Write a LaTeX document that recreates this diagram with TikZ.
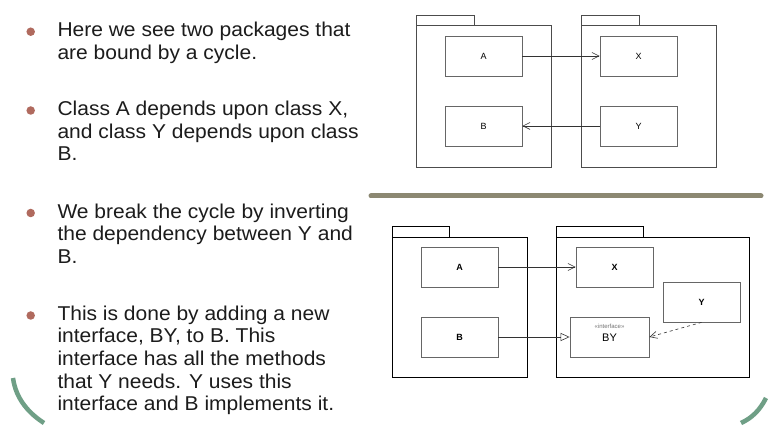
\documentclass[tikz,border=0pt]{standalone}
\usepackage{fontspec}
\setmainfont{Liberation Sans}
\usetikzlibrary{arrows.meta}
\definecolor{bulc}{HTML}{B06A5E}
\definecolor{sepc}{HTML}{8C8872}
\definecolor{arcc}{HTML}{6F9F86}
\definecolor{txtc}{HTML}{1C1C1C}
\tikzset{
  line/.style={anchor=base west, inner sep=0pt, transform shape, font=\fontsize{20}{22}\selectfont, text=txtc},
  bul/.style={circle, fill=bulc, inner sep=0pt, minimum size=8.5pt},
  pkgbody/.style={draw=black!70, line width=0.8pt, inner sep=0pt},
  cls/.style={draw=black!60, line width=0.8pt, inner sep=0pt, minimum width=77pt, minimum height=40pt, font=\fontsize{9}{10}\selectfont},
  clsb/.style={cls, font=\fontsize{9}{10}\selectfont\bfseries},
  dep/.style={draw=black!80, line width=0.6pt, -{Straight Barb[length=7pt,width=7pt]}},
  real/.style={draw=black!80, line width=0.6pt, -{Triangle[open,length=9pt,width=8pt]}},
}
\begin{document}
\begin{tikzpicture}[x=1pt,y=-1pt]
\useasboundingbox[fill=white] (0,0) rectangle (782,438);
% bullets and text
\node[bul] (b1) at (30.7,31.7) {};
\node[bul] (b2) at (30.7,110.5) {};
\node[bul] (b3) at (30.7,213) {};
\node[bul] (b4) at (30.7,315.5) {};
\begin{scope}[xscale=1.05]
\node[line] (t1) at (57.3/1.05,36.7) {Here we see two packages that};
\node[line] (t2) at (57.3/1.05,59.3) {are bound by a cycle.};
\node[line] (t3) at (57.3/1.05,115.7) {Class A depends upon class X,};
\node[line] (t4) at (57.3/1.05,138.3) {and class Y depends upon class};
\node[line] (t5) at (57.3/1.05,161) {B.};
\node[line] (t6) at (57.3/1.05,218.3) {We break the cycle by inverting};
\node[line] (t7) at (57.3/1.05,240.7) {the dependency between Y and};
\node[line] (t8) at (57.3/1.05,263.3) {B.};
\node[line] (t9) at (57.3/1.05,320.7) {This is done by adding a new};
\node[line] (t10) at (57.3/1.05,342.7) {interface, BY, to B. This};
\node[line] (t11) at (57.3/1.05,365.5) {interface has all the methods};
\node[line] (t12) at (57.3/1.05,388.3) {that Y needs. Y uses this};
\node[line] (t13) at (57.3/1.05,410.7) {interface and B implements it.};
\end{scope}
% frame arcs
\draw[arcc, line width=4.5pt] (13,378) .. controls (16,400) and (30,414) .. (44,423);
\draw[arcc, line width=4.5pt] (766,398) .. controls (760,410) and (752,418) .. (741,423);
% separator
\coordinate (s1) at (371,196);
\coordinate (s2) at (761,196);
\draw[sepc, line width=5pt, line cap=round] (s1) -- (s2);
% top diagram
\node[pkgbody, minimum width=58pt, minimum height=10pt] (tabL1) at (445,20) {};
\node[pkgbody, minimum width=135pt, minimum height=142pt, fill=white] (pL1) at (483.5,96) {};
\node[pkgbody, minimum width=58pt, minimum height=10pt] (tabR1) at (610,20) {};
\node[pkgbody, minimum width=135pt, minimum height=142pt, fill=white] (pR1) at (648.5,96) {};
\node[cls] (A1) at (483.5,56) {A};
\node[cls] (B1) at (483.5,126) {B};
\node[cls] (X1) at (638.5,56) {X};
\node[cls] (Y1) at (638.5,126) {Y};
\draw[dep] (A1.east) -- (X1.west);
\draw[dep] (Y1.west) -- (B1.east);
% bottom diagram
\node[pkgbody, draw=black, minimum width=57pt, minimum height=11pt] (tabL2) at (420.5,231.5) {};
\node[pkgbody, draw=black, minimum width=135pt, minimum height=140pt, fill=white] (pL2) at (459.5,307) {};
\node[pkgbody, draw=black, minimum width=87pt, minimum height=11pt] (tabR2) at (599.5,231.5) {};
\node[pkgbody, draw=black, minimum width=193pt, minimum height=140pt, fill=white] (pR2) at (652.5,307) {};
\node[clsb] (A2) at (459.5,267) {A};
\node[clsb] (B2) at (459.5,337) {B};
\node[clsb] (X2) at (614.5,267) {X};
\node[clsb] (Y2) at (701.5,302) {Y};
\node[cls, minimum width=79pt] (BY) at (609.5,337) {};
\node[inner sep=0pt, font=\fontsize{6}{7}\selectfont, text=black!55] (BYs) at (609.5,326) {«interface»};
\node[inner sep=0pt, font=\fontsize{11}{12}\selectfont] (BYn) at (609.5,337.5) {BY};
\draw[dep] (A2.east) -- (X2.west);
\draw[real] (B2.east) -- (BY.west);
\draw[dep, dashed] (Y2.south) -- (BY.east);
\end{tikzpicture}
\end{document}
